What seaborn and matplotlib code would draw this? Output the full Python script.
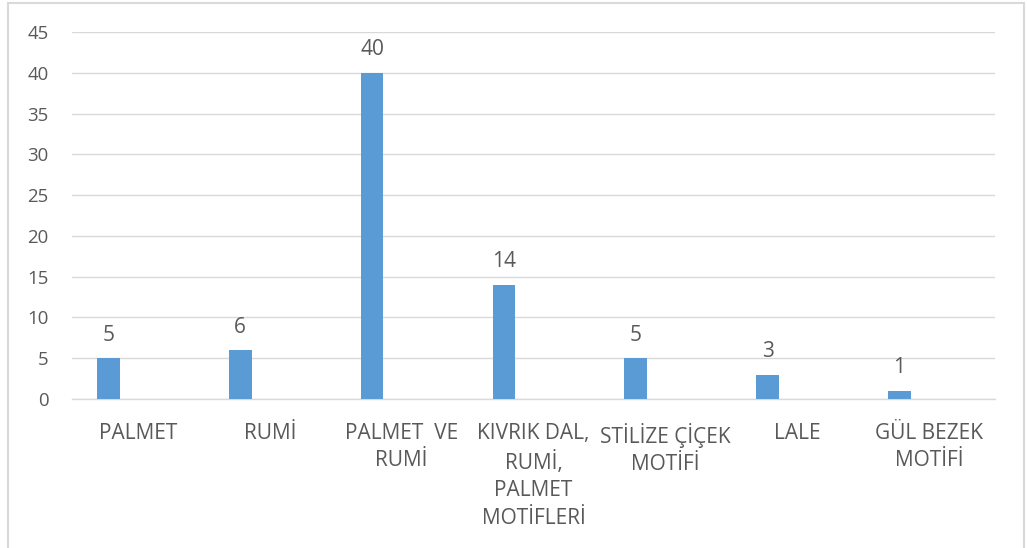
import matplotlib
matplotlib.use("Agg")
import matplotlib.pyplot as plt
from matplotlib.patches import Rectangle
import seaborn as sns

# Motif counts
categories = [
    "PALMET",
    "RUMİ",
    "PALMET  VE\nRUMİ",
    "KIVRIK DAL,\nRUMİ,\nPALMET\nMOTİFLERİ",
    "STİLİZE ÇİÇEK\nMOTİFİ",
    "LALE",
    "GÜL BEZEK\nMOTİFİ",
]
counts = [5, 6, 40, 14, 5, 3, 1]
y_ticks = [0, 5, 10, 15, 20, 25, 30, 35, 40, 45]

BAR_COLOR = "#5B9BD5"
TEXT_COLOR = "#595959"
GRID_COLOR = "#D9D9D9"

sns.set_theme(style="white")
plt.rcParams["font.family"] = ["Open Sans", "DejaVu Sans"]

fig = plt.figure(figsize=(10.27, 5.48), dpi=100)
ax = fig.add_axes([72 / 1027, (548 - 399) / 548, (995 - 72) / 1027, (399 - 32) / 548])

sns.barplot(x=categories, y=counts, color=BAR_COLOR, width=0.172,
            saturation=1, linewidth=0, ax=ax, zorder=3)

# bars sit left of the category centre
for p in ax.patches:
    p.set_x(p.get_x() - 0.224)

ax.bar_label(ax.containers[0], labels=[str(v) for v in counts],
             padding=9, fontsize=15, color=TEXT_COLOR)

ax.set_xlim(-0.5, len(categories) - 0.5)
ax.set_ylim(0, 45)
ax.set_yticks(y_ticks)
ax.yaxis.grid(True, color=GRID_COLOR, linewidth=1.0)
ax.set_axisbelow(True)
for side in ["top", "right", "left"]:
    ax.spines[side].set_visible(False)
ax.spines["bottom"].set_color(GRID_COLOR)
ax.spines["bottom"].set_linewidth(1.0)

ax.tick_params(axis="y", length=0, pad=17, labelsize=13.4, labelcolor=TEXT_COLOR)
ax.tick_params(axis="x", length=0, pad=17, labelsize=15, labelcolor=TEXT_COLOR)
for lbl in ax.get_xticklabels():
    lbl.set_linespacing(1.4)
    lbl.set_multialignment("center")
ax.set_xlabel("")
ax.set_ylabel("")

# chart frame
fig.patches.append(Rectangle((8 / 1027, -0.05), (1024 - 8) / 1027, (545 / 548) + 0.05,
                             transform=fig.transFigure, fill=False,
                             edgecolor=GRID_COLOR, linewidth=1.5, zorder=0))

fig.savefig("out.png", dpi=100)
